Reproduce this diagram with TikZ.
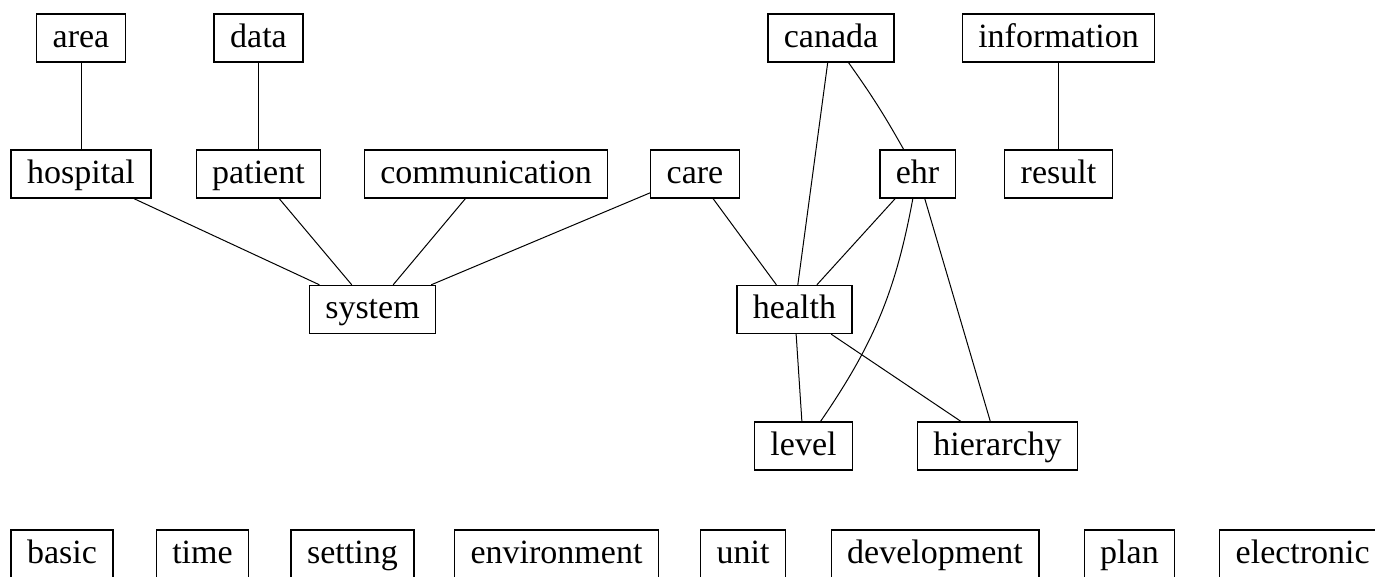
\documentclass[tikz,border=0pt]{standalone}
\usepackage{fontspec}
\setmainfont{Liberation Serif}

\begin{document}
\begin{tikzpicture}[x=1pt,y=-1pt,-,thick,main node/.style={rectangle,draw,line width=1.4pt,minimum height=48pt,inner xsep=16pt,inner ysep=0pt,text height=23pt,text depth=5pt,font=\fontsize{34}{40}\selectfont}]
                        \useasboundingbox (0,0) rectangle (1375,576);

                        \node[main node] (1) at (81,38) {area};
                        \node[main node] (2) at (258.5,38) {data};
                        \node[main node] (3) at (831,38) {canada};
                        \node[main node] (4) at (1058.5,38) {information};

                        \node[main node] (5) at (81,174) {hospital};
                        \node[main node] (6) at (258.5,174) {patient};
                        \node[main node] (7) at (486,174) {communication};
                        \node[main node] (8) at (695,174) {care};
                        \node[main node] (9) at (917.5,174) {ehr};
                        \node[main node] (10) at (1058.5,174) {result};

                        \node[main node] (11) at (372.5,309.5) {system};
                        \node[main node] (12) at (794.5,309.5) {health};

                        \node[main node] (13) at (803.5,446) {level};
                        \node[main node] (14) at (997.5,446) {hierarchy};

                        \node[main node] (15) at (62,554) {basic};
                        \node[main node] (16) at (202.5,554) {time};
                        \node[main node] (17) at (352.5,554) {setting};
                        \node[main node] (18) at (556.5,554) {environment};
                        \node[main node] (19) at (743,554) {unit};
                        \node[main node] (20) at (935,554) {development};
                        \node[main node] (21) at (1129.5,554) {plan};
                        \node[main node, anchor=west] (22) at (1219,554) {electronic};

                        \path[line width=1pt]
                                (1) edge  (5)
                                (2) edge  (6)
                                (4) edge  (10)

                                (5) edge  (11)
                                (6) edge  (11)
                                (7) edge  (11)
                                (8) edge  (11)

                                (8) edge  (12)
                                (3) edge  (12)
                                (3) edge [bend left=3]  (9)
                                (9) edge  (12)
                                (9) edge [bend left=12]  (13)
                                (9) edge  (14)

                                (12) edge  (13)
                                (12) edge  (14)
                            ;
                    \end{tikzpicture}
\end{document}
